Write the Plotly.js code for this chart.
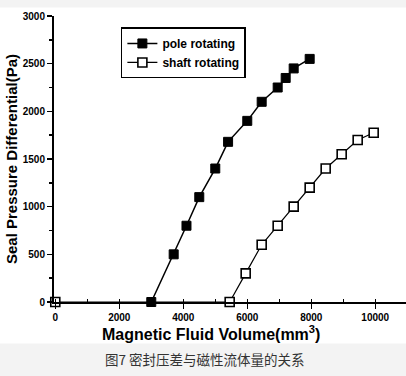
<!DOCTYPE html>
<html>
<head>
<meta charset="utf-8">
<script src="https://cdn.plot.ly/plotly-3.0.1.min.js"></script>
<style>
html,body{margin:0;padding:0;background:#fff;}
#chart{width:406px;height:376px;}
</style>
</head>
<body>
<div id="chart"></div>
<script>
// Data
const poleX = [3000, 3700, 4100, 4500, 5000, 5400, 6000, 6450, 6950, 7200, 7450, 7950];
const poleY = [0, 500, 800, 1100, 1400, 1680, 1900, 2100, 2250, 2350, 2450, 2550];
const shaftX = [0, 5450, 5950, 6450, 6950, 7450, 7950, 8450, 8950, 9450, 9950];
const shaftY = [0, 0, 300, 600, 800, 1000, 1200, 1400, 1550, 1700, 1775];
const seriesNames = ['pole rotating', 'shaft rotating'];
const xTitle = 'Magnetic Fluid Volume(mm<sup>3</sup>)';
const yTitle = 'Seal Pressure Differential(Pa)';
const caption = '图7 密封压差与磁性流体量的关系';

const traces = [
  {
    x: poleX, y: poleY, name: seriesNames[0], type: 'scatter', mode: 'lines+markers',
    line: {color: '#000', width: 1.5},
    marker: {symbol: 'square', size: 9, color: '#000', line: {color: '#000', width: 1}},
    cliponaxis: false
  },
  {
    x: shaftX, y: shaftY, name: seriesNames[1], type: 'scatter', mode: 'lines+markers',
    line: {color: '#000', width: 1.2},
    marker: {symbol: 'square', size: 9, color: '#fff', line: {color: '#000', width: 1.6}},
    cliponaxis: false
  }
];

const fam = 'Liberation Sans, Arial, sans-serif';

const layout = {
  width: 406, height: 376,
  margin: {l: 54, r: 0, t: 16, b: 74},
  paper_bgcolor: '#fff', plot_bgcolor: '#fff',
  showlegend: true,
  legend: {
    x: 0.19, y: 0.96, xanchor: 'left', yanchor: 'top',
    bgcolor: '#fff', bordercolor: '#000', borderwidth: 1.5,
    font: {family: fam, size: 12, color: '#000', weight: 'bold'},
    itemwidth: 30, tracegroupgap: 0
  },
  xaxis: {
    range: [-40, 10960], showgrid: false, zeroline: false,
    showline: true, linecolor: '#000', linewidth: 2,
    ticks: 'outside', ticklen: 5, tickwidth: 1.5, tickcolor: '#000',
    tick0: 0, dtick: 2000, tickformat: 'd',
    minor: {dtick: 1000, ticks: 'inside', ticklen: 3, tickcolor: '#000', tickwidth: 1.5},
    tickfont: {family: fam, size: 10, color: '#000', weight: 'bold'}
  },
  yaxis: {
    range: [0, 3000], showgrid: false, zeroline: false,
    showline: true, linecolor: '#000', linewidth: 2,
    ticks: 'outside', ticklen: 5, tickwidth: 1.5, tickcolor: '#000',
    tick0: 0, dtick: 500, tickformat: 'd',
    minor: {dtick: 250, ticks: 'outside', ticklen: 3, tickcolor: '#000', tickwidth: 1.5},
    tickfont: {family: fam, size: 10, color: '#000', weight: 'bold'},
    title: {text: yTitle, standoff: 2, font: {family: fam, size: 15, color: '#000', weight: 'bold'}}
  },
  shapes: [
    {type: 'rect', xref: 'paper', yref: 'paper', x0: -0.2, x1: 1.05, y0: -0.145, y1: -0.3, fillcolor: '#f3f3f3', line: {width: 0}, layer: 'below'},
    {type: 'rect', xref: 'paper', yref: 'paper', x0: -0.2, x1: 1.05, y0: 1.03, y1: 1.1, fillcolor: '#f3f3f3', line: {width: 0}, layer: 'below'}
  ],
  annotations: [
    {text: xTitle, xref: 'paper', yref: 'paper', x: 0.446, y: -0.108, xanchor: 'center', yanchor: 'middle',
     showarrow: false, font: {family: fam, size: 16, color: '#000', weight: 'bold'}},
    {text: caption, xref: 'paper', yref: 'paper', x: 0.43, y: -0.2, xanchor: 'center', yanchor: 'middle',
     showarrow: false, font: {family: 'Noto Sans CJK SC, sans-serif', size: 13.5, color: '#333'}}
  ]
};

Plotly.newPlot('chart', traces, layout, {displayModeBar: false, staticPlot: true});
</script>
</body>
</html>
